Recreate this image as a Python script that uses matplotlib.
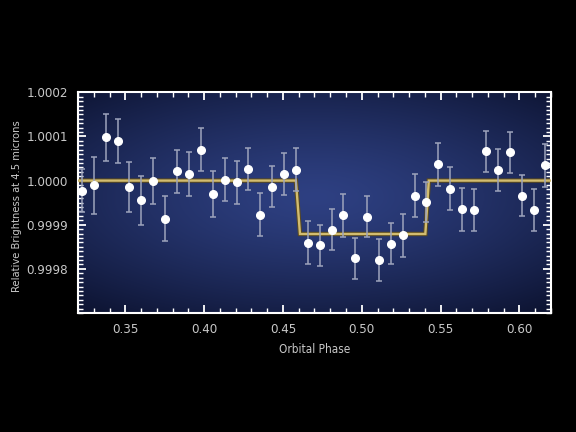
import numpy as np
from matplotlib import pyplot as plt
from matplotlib.ticker import MultipleLocator, FormatStrFormatter

# measured points (orbital phase, relative brightness, 1-sigma error)
phase = [0.3226, 0.3299, 0.3375, 0.3451, 0.3525, 0.3601, 0.3677, 0.3753,
         0.3829, 0.3905, 0.3979, 0.4055, 0.4131, 0.4207, 0.4280, 0.4356,
         0.4430, 0.4506, 0.4582, 0.4658, 0.4732, 0.4808, 0.4882, 0.4960,
         0.5034, 0.5109, 0.5185, 0.5261, 0.5335, 0.5409, 0.5485, 0.5561,
         0.5637, 0.5713, 0.5789, 0.5863, 0.5937, 0.6013, 0.6089, 0.6165]
bright = [0.999977, 0.999989, 1.000098, 1.000089, 0.999985, 0.999955,
          0.999999, 0.999913, 1.000021, 1.000015, 1.000070, 0.999970,
          1.000002, 0.999996, 1.000026, 0.999923, 0.999986, 1.000015,
          1.000025, 0.999859, 0.999853, 0.999889, 0.999921, 0.999824,
          0.999918, 0.999820, 0.999857, 0.999876, 0.999966, 0.999952,
          1.000037, 0.999982, 0.999935, 0.999933, 1.000066, 1.000024,
          1.000064, 0.999966, 0.999933, 1.000035]
err = [4.9, 6.5, 5.4, 5.0, 5.6, 5.6, 5.2, 5.1, 4.9, 5.0, 4.9, 5.2, 4.9, 4.9,
       4.7, 4.9, 4.6, 4.8, 4.8, 4.9, 4.7, 4.6, 4.9, 4.7, 4.6, 4.7, 4.6, 4.9,
       4.9, 4.5, 4.9, 4.9, 4.9, 4.8, 4.7, 4.8, 4.7, 4.7, 4.8, 4.9]
err = [e * 1e-5 for e in err]

# eclipse model
model_phase = [0.32, 0.4582, 0.4608, 0.5403, 0.5425, 0.62]
model_bright = [1.0, 1.0, 0.999879, 0.999879, 1.0, 1.0]

txt = '#c8c8c8'
fam = ['DejaVu Sans']

fig = plt.figure(figsize=(5.76, 4.32), dpi=100, facecolor='black')
ax = fig.add_axes([0.1354, 0.2755, 0.8212, 0.5108])
ax.set_facecolor('#141c40')

# radial blue glow behind the data
gx, gy = np.meshgrid(np.linspace(-1, 1, 300), np.linspace(-1, 1, 200))
r = np.sqrt((gx * 0.85) ** 2 + ((gy + 0.05) * 1.0) ** 2)
r = np.clip(r / 1.3, 0, 1)
c0 = np.array([0x2e, 0x40, 0x82]) / 255
c1 = np.array([0x0e, 0x15, 0x34]) / 255
img = c0[None, None, :] * (1 - r[..., None] ** 1.3) + c1[None, None, :] * r[..., None] ** 1.3
ax.imshow(img, extent=[0, 1, 0, 1], transform=ax.transAxes, aspect='auto',
          zorder=0, interpolation='bicubic')

ax.plot(model_phase, model_bright, color='#5a4a20', lw=3.2, zorder=2,
        solid_joinstyle='miter')
ax.plot(model_phase, model_bright, color='#d2bc70', lw=1.7, zorder=3,
        solid_joinstyle='miter')
ax.errorbar(phase, bright, yerr=err, fmt='o', color='white', ms=5.5,
            mec='white', ecolor='#9ea4bc', elinewidth=1.1, capsize=2.5,
            capthick=1.1, zorder=4)

ax.set_xlim(0.32, 0.62)
ax.set_ylim(0.9997, 1.0002)
ax.xaxis.set_major_locator(MultipleLocator(0.05))
ax.xaxis.set_minor_locator(MultipleLocator(0.01))
ax.yaxis.set_major_locator(MultipleLocator(0.0001))
ax.yaxis.set_minor_locator(MultipleLocator(0.00001))
ax.xaxis.set_major_formatter(FormatStrFormatter('%.2f'))
ax.yaxis.set_major_formatter(FormatStrFormatter('%.4f'))
ax.set_yticks([0.9998, 0.9999, 1.0, 1.0001, 1.0002])

for s in ax.spines.values():
    s.set_color('white')
    s.set_linewidth(1.5)
ax.tick_params(which='both', direction='in', top=True, right=True,
               color='white', labelcolor=txt, labelsize=9.5)
ax.tick_params(which='major', length=6, width=1.3, pad=7)
ax.tick_params(which='minor', length=3.5, width=1.0)
for lab in ax.get_xticklabels() + ax.get_yticklabels():
    lab.set_family(fam)
    lab.set_stretch('condensed')

ax.set_xlabel('Orbital Phase', color=txt, fontsize=8.5, family=fam,
              stretch='condensed')
ax.set_ylabel('Relative Brightness at 4.5 microns', color=txt, fontsize=8,
              family=fam, stretch='condensed')
ax.xaxis.set_label_coords(0.5, -0.135)
ax.yaxis.set_label_coords(-0.118, 0.485)

fig.savefig('out.png', dpi=100, facecolor='black')
